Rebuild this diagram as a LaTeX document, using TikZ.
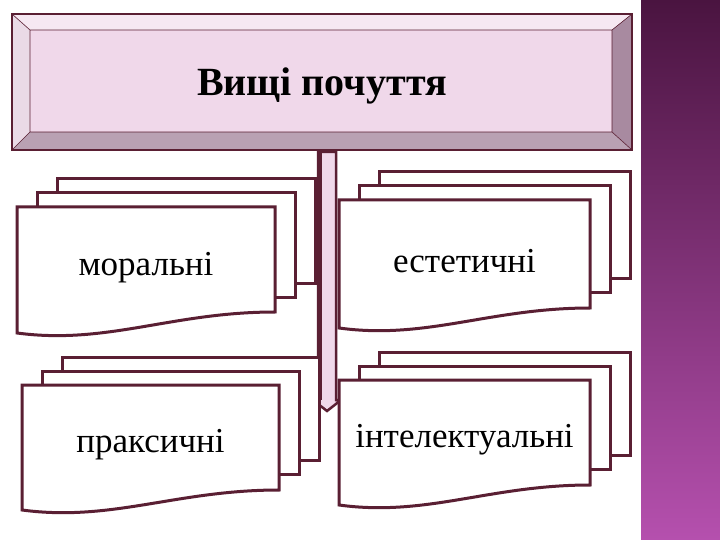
\documentclass[tikz,border=0pt]{standalone}
\usepackage{fontspec}
\setmainfont{Liberation Serif}
\begin{document}
\begin{tikzpicture}[x=1pt,y=-1pt,
  edge/.style={draw=dk,line width=3pt,fill=white},
  lbl/.style={font=\fontsize{35}{40}\selectfont,text=black}]
\definecolor{dk}{HTML}{5A1F33}
\definecolor{face}{HTML}{F0D8EA}
\definecolor{bevL}{HTML}{F6E8F2}
\definecolor{bevD}{HTML}{A88AA0}
\definecolor{stripT}{HTML}{4A1440}
\definecolor{stripB}{HTML}{B550AE}
\useasboundingbox (0,0) rectangle (720,540);
\fill[white] (0,0) rectangle (720,540);
\shade[top color=stripT,bottom color=stripB] (641,0) rectangle (720,540);
% top bevel box
\fill[bevL] (12,14) -- (632,14) -- (612,30) -- (30,30) -- cycle;
\fill[bevL!85!bevD] (12,14) -- (30,30) -- (30,132) -- (12,150) -- cycle;
\fill[bevD] (632,14) -- (632,150) -- (612,132) -- (612,30) -- cycle;
\fill[bevD!80!white] (12,150) -- (632,150) -- (612,132) -- (30,132) -- cycle;
\fill[face] (30,30) rectangle (612,132);
\draw[dk,line width=0.6pt] (12,14) -- (30,30) (632,14) -- (612,30) (12,150) -- (30,132) (632,150) -- (612,132) (30,30) rectangle (612,132);
\draw[dk,line width=2.5pt] (12,14) rectangle (632,150);
\node[font=\bfseries\fontsize{40}{44}\selectfont] (title) at (322,86) {Вищі почуття};
% arrow
\draw[dk,line width=2.5pt,fill=face] (318,152) -- (336,152) -- (336,400) -- (341,400) -- (327,411) -- (313,400) -- (318,400) -- cycle;
\fill[dk] (318,152) rectangle (322,400);
\newcommand{\mydocs}[7]{%
  \draw[edge] (#1+40,#2-28) rectangle (#1+40+#3,#2-28+#4-22);
  \draw[edge] (#1+20,#2-14) rectangle (#1+20+#3,#2-14+#4-22);
  \draw[edge] (#1,#2) -- (#1+#3,#2) -- (#1+#3,#2+#4-#5)
     .. controls (#1+0.6*#3,#2+#4-#5) and (#1+0.35*#3,#2+#4+12) .. (#1,#2+#4) -- cycle;
  \node[lbl] (#7) at (#1+0.5*#3,#2+0.48*#4) {#6};}
\mydocs{17}{207}{258}{126}{21}{моральні}{m}
\mydocs{339}{200}{251}{128}{20}{естетичні}{e}
\mydocs{22}{385}{257}{125}{20}{праксичні}{p}
\mydocs{339}{380}{251}{125}{20}{інтелектуальні}{i}
\end{tikzpicture}
\end{document}
